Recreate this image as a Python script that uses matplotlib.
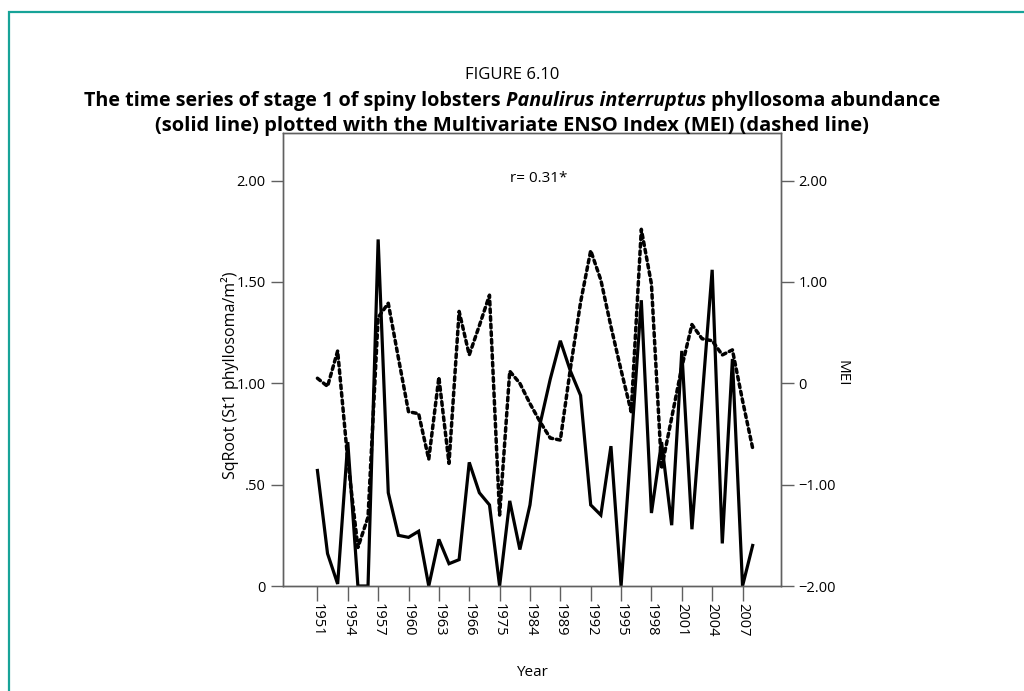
import matplotlib
matplotlib.use("Agg")
import matplotlib.pyplot as plt
from matplotlib.patches import Rectangle

plt.rcParams['font.family'] = ['Open Sans', 'DejaVu Sans']

# survey years (categorical axis, some years missing)
years = ['1951', '1952', '1953', '1954', '1955', '1956', '1957', '1958', '1959', '1960',
         '1961', '1962', '1963', '1964', '1965', '1966', '1969', '1972', '1975', '1978',
         '1981', '1984', '1986', '1988', '1989', '1990', '1991', '1992', '1993', '1994',
         '1995', '1996', '1997', '1998', '1999', '2000', '2001', '2002', '2003', '2004',
         '2005', '2006', '2007', '2008']
tick_years = ['1951', '1954', '1957', '1960', '1963', '1966', '1975', '1984', '1989',
              '1992', '1995', '1998', '2001', '2004', '2007']

# sqrt St1 phyllosoma abundance (solid line, left axis)
phyllo = [0.57, 0.16, 0.01, 0.71, 0.0, 0.0, 1.71, 0.46, 0.25, 0.24,
          0.27, 0.0, 0.23, 0.11, 0.13, 0.61, 0.46, 0.40, 0.0, 0.42,
          0.18, 0.40, 0.80, 1.02, 1.21, 1.06, 0.94, 0.40, 0.35, 0.69,
          0.0, 0.70, 1.41, 0.36, 0.71, 0.30, 1.16, 0.28, 0.92, 1.56,
          0.21, 1.12, 0.0, 0.20]

# Multivariate ENSO Index (dashed line, right axis)
mei = [0.05, -0.03, 0.32, -0.76, -1.62, -1.32, 0.65, 0.79, 0.25, -0.28,
       -0.30, -0.75, 0.06, -0.79, 0.71, 0.28, 0.57, 0.87, -1.30, 0.12,
       0.0, -0.20, -0.38, -0.54, -0.56, 0.15, 0.80, 1.31, 1.02, 0.56,
       0.13, -0.28, 1.52, 0.98, -0.84, -0.34, 0.16, 0.58, 0.44, 0.42,
       0.28, 0.33, -0.17, -0.64]

W, H = 1024, 691
fig = plt.figure(figsize=(W / 100, H / 100), dpi=100)

# teal frame of the figure page
fig.add_artist(Rectangle((9 / W, -0.05), 1.1, (H - 12) / H + 0.05, transform=fig.transFigure,
                         fill=False, edgecolor='#17a398', linewidth=1.6))

title_size = 14.2
fig.text(0.5, 1 - 75 / H, 'FIGURE 6.10', ha='center', va='center', fontsize=12)

# second title line has an italic species name in the middle
parts = [('The time series of stage 1 of spiny lobsters ', 'normal'),
         ('Panulirus interruptus', 'italic'),
         (' phyllosoma abundance', 'normal')]
renderer = fig.canvas.get_renderer()
texts = []
for s, st in parts:
    t = fig.text(0, 1 - 101 / H, s, ha='left', va='center', fontsize=title_size,
                 fontweight='bold', fontstyle=st)
    texts.append(t)
widths = [t.get_window_extent(renderer).width for t in texts]
xpos = (W - sum(widths)) / 2
for t, w in zip(texts, widths):
    t.set_x(xpos / W)
    xpos += w

fig.text(0.5, 1 - 126 / H,
         '(solid line) plotted with the Multivariate ENSO Index (MEI) (dashed line)',
         ha='center', va='center', fontsize=title_size + 0.3, fontweight='bold')

ax = fig.add_axes([283 / W, (H - 586) / H, (781 - 283) / W, (586 - 133) / H])
x = list(range(len(years)))
ax.plot(x, phyllo, color='black', lw=2.3, solid_joinstyle='miter')
ax.set_ylim(0, 2.235)
ax.set_xlim(-3.4, 45.8)
ax.set_yticks([0, 0.5, 1.0, 1.5, 2.0])
ax.set_yticklabels(['0', '.50', '1.00', '1.50', '2.00'])
ax.set_xticks([years.index(y) for y in tick_years])
ax.set_xticklabels(tick_years, rotation=270)
ax.set_ylabel('SqRoot (St1 phyllosoma/m²)', fontsize=11.5)
ax.yaxis.set_label_coords(-0.088, 0.466)
ax.set_xlabel('Year', fontsize=11)
ax.xaxis.set_label_coords(0.5, -0.175)

ax2 = ax.twinx()
ax2.plot(x, mei, color='black', lw=2.5, linestyle=(0, (1.1, 1.1)), dash_capstyle='round')
ax2.set_ylim(-2, 2.47)
ax2.set_yticks([-2, -1, 0, 1, 2])
ax2.set_yticklabels(['\u22122.00', '\u22121.00', '0', '1.00', '2.00'])
ax2.set_ylabel('MEI', fontsize=11, rotation=270, va='center')
ax2.yaxis.set_label_coords(1.122, 0.47)

for a in (ax, ax2):
    for s in a.spines.values():
        s.set_color('#606060')
        s.set_linewidth(1.0)
    a.tick_params(axis='both', colors='#606060', labelcolor='black', labelsize=10.5,
                  length=9, width=1.0)
ax.tick_params(axis='x', length=11, pad=1, labelsize=10.5)

ax.text(0.514, 0.90, 'r= 0.31*', transform=ax.transAxes, ha='center', va='center', fontsize=11)

fig.savefig('out.png', dpi=100)
